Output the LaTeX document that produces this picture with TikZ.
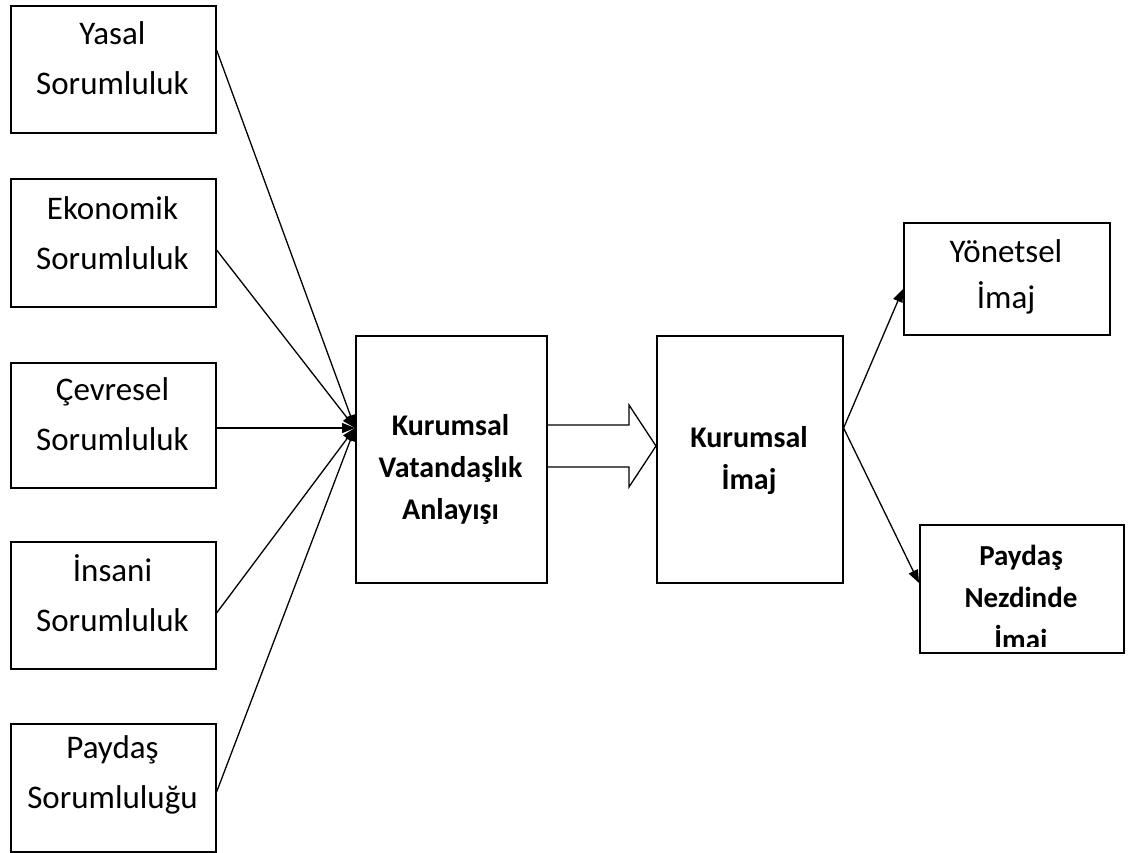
\documentclass[tikz,border=0pt]{standalone}
\usepackage{fontspec}
\setmainfont{Carlito}
\usetikzlibrary{arrows.meta}
\begin{document}
\begin{tikzpicture}[x=1pt,y=-1pt,
  box/.style={draw, line width=1.6pt, inner sep=0pt, anchor=north west},
  lt/.style={font=\fontsize{33}{50}\selectfont, align=center, inner sep=0pt},
  rt/.style={font=\fontsize{33}{46}\selectfont, align=center, inner sep=0pt},
  bt/.style={font=\fontsize{30}{42}\selectfont\bfseries, align=center, inner sep=0pt},
  conn/.style={line width=1.3pt, -{Triangle[length=13pt,width=10pt]}},
  blockarrow/.style={line width=1.3pt, line join=miter}]
\useasboundingbox[fill=white] (0,0) rectangle (1144,853);
% left boxes
\node[box, minimum width=205pt, minimum height=127pt] (b1) at (10,5) {};
\node[box, minimum width=205pt, minimum height=128pt] (b2) at (10,178) {};
\node[box, minimum width=205pt, minimum height=125pt] (b3) at (10,362) {};
\node[box, minimum width=205pt, minimum height=127pt] (b4) at (10,541) {};
\node[box, minimum width=205pt, minimum height=128pt] (b5) at (10,723) {};
\node[lt] (t1) at (112.5,58.5) {Yasal\\Sorumluluk};
\node[lt] (t2) at (112.5,233.5) {Ekonomik\\Sorumluluk};
\node[lt] (t3) at (112.5,414) {Çevresel\\Sorumluluk};
\node[lt] (t4) at (112.5,593.5) {İnsani\\Sorumluluk};
\node[lt] (t5) at (112.5,775) {Paydaş\\Sorumluluğu};
% centre boxes
\node[box, minimum width=191pt, minimum height=247pt] (cva) at (355,335) {};
\node[bt] (tcva) at (450.5,469) {Kurumsal\\Vatandaşlık\\Anlayışı};
\node[box, minimum width=186pt, minimum height=247pt] (ki) at (656,335) {};
\node[bt] (tki) at (749,461) {Kurumsal\\İmaj};
% right boxes
\node[box, minimum width=206pt, minimum height=112pt] (yi) at (903,222) {};
\node[rt] (tyi) at (1006,277) {Yönetsel\\İmaj};
\node[box, minimum width=204pt, minimum height=128pt] (pn) at (919,524) {};
\begin{scope}
  \clip (919,524) rectangle (1123,646.5);
  \node[bt, font=\fontsize{29}{42}\selectfont\bfseries] (tpn) at (1021,600) {Paydaş\\Nezdinde\\İmaj};
\end{scope}
% converging connectors
\coordinate (hub) at (cva.west |- 0,428);
\draw[conn] (b1.east |- 0,50) -- (hub);
\draw[conn] (b2.east |- 0,250) -- (hub);
\draw[conn] (b3.east |- 0,428) -- (hub);
\draw[conn] (b4.east |- 0,613) -- (hub);
\draw[conn] (b5.east |- 0,792) -- (hub);
% block arrow
\draw[blockarrow] (cva.east |- 0,425) -- (629,425) -- (629,405) -- (ki.west |- 0,446)
  -- (629,487) -- (629,467) -- (cva.east |- 0,467);
% right connectors
\draw[conn] (ki.east |- 0,428) -- (yi.west |- 0,289);
\draw[conn] (ki.east |- 0,428) -- (pn.west |- 0,583);
\end{tikzpicture}
\end{document}
